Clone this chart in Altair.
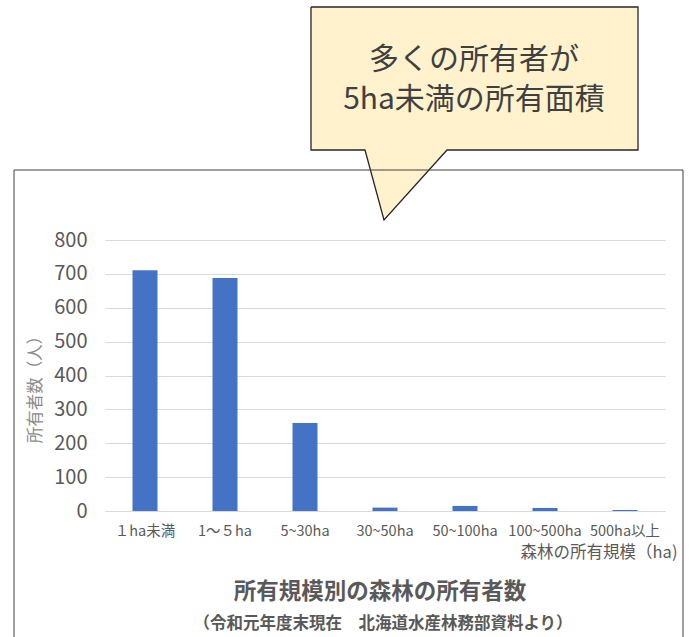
import altair as alt
import pandas as pd

# ---- data ----
categories = ["１ha未満", "1～５ha", "5~30ha", "30~50ha", "50~100ha", "100~500ha", "500ha以上"]
owners = [711, 688, 260, 10, 15, 9, 3]
y_ticks = [0, 100, 200, 300, 400, 500, 600, 700, 800]
callout_lines = ["多くの所有者が", "5ha未満の所有面積"]
x_title = "森林の所有規模（ha)"
y_title = "所有者数（人）"
title_text = "所有規模別の森林の所有者数"
subtitle_text = "（令和元年度末現在　北海道水産林務部資料より）"

FONT = "Noto Sans CJK JP"
W, H = 560, 271
GRAY = "#595959"

df = pd.DataFrame({"cat": categories, "n": owners})

# layout of the callout (pixels relative to plot origin)
outline = pd.DataFrame({
    "px": [206, 533, 533, 342, 279, 260, 206, 206],
    "py": [-233, -233, -90, -90, -20, -90, -90, -233],
    "i": list(range(8)),
})
tri = pd.DataFrame({"px": [260, 279, 342], "py": [-91, -20, -91], "py2": [-91, -91, -91]})

one = pd.DataFrame({"a": [0]})

box_fill = alt.Chart(one).mark_rect(fill="#FFF2CC", stroke=None).encode(
    x=alt.value(206), x2=alt.value(533), y=alt.value(-233), y2=alt.value(-90)
)
tri_fill = alt.Chart(tri).mark_area(fill="#FFF2CC", clip=False).encode(
    x=alt.X("px:Q", scale=None, axis=None),
    y=alt.Y("py:Q", scale=None, axis=None),
    y2="py2:Q",
)
outline_line = alt.Chart(outline).mark_line(stroke="#262626", strokeWidth=1.3, clip=False).encode(
    x=alt.X("px:Q", scale=None, axis=None),
    y=alt.Y("py:Q", scale=None, axis=None),
    order=alt.Order("i:Q"),
)
callout_text = alt.Chart(pd.DataFrame({"t": ["\n".join(callout_lines)]})).mark_text(
    font=FONT, fontSize=30, color="#404040", lineBreak="\n", lineHeight=40,
    align="center", baseline="middle",
).encode(text="t:N", x=alt.value(369), y=alt.value(-180))

border = alt.Chart(one).mark_rect(fill=None, stroke="#404040", strokeWidth=1).encode(
    x=alt.value(-91), x2=alt.value(578), y=alt.value(-70), y2=alt.value(420)
)

bars = alt.Chart(df).mark_bar(color="#4472C4", size=25).encode(
    x=alt.X(
        "cat:N", sort=categories,
        scale=alt.Scale(paddingInner=0, paddingOuter=0),
        axis=alt.Axis(
            title=x_title, labelAngle=0, ticks=False, domainColor="#D9D9D9",
            labelColor=GRAY, labelFontSize=14.5, labelFont=FONT, labelPadding=13,
            titleAnchor="end", titleAlign="right", titleBaseline="alphabetic",
            titleX=572, titleY=46, titleFontSize=16.5, titleFontWeight="normal",
            titleColor=GRAY, titleFont=FONT,
        ),
    ),
    y=alt.Y(
        "n:Q", scale=alt.Scale(domain=[0, 800]),
        axis=alt.Axis(
            values=y_ticks, title=y_title, grid=True, gridColor="#D9D9D9",
            domain=False, ticks=False, labelFontSize=20, labelColor=GRAY,
            labelFont=FONT, labelPadding=18, titleX=-62, titleY=145,
            titleAngle=270, titleAlign="center", titleFontSize=16.5,
            titleFontWeight="normal", titleColor="#8c8c8c", titleFont=FONT,
        ),
    ),
)

title = alt.Chart(pd.DataFrame({"t": [title_text]})).mark_text(
    font=FONT, fontSize=22.5, fontWeight="bold", color=GRAY, align="center", baseline="middle"
).encode(text="t:N", x=alt.value(275), y=alt.value(352))
subtitle = alt.Chart(pd.DataFrame({"t": [subtitle_text]})).mark_text(
    font=FONT, fontSize=16.5, fontWeight="bold", color=GRAY, align="center", baseline="middle"
).encode(text="t:N", x=alt.value(278), y=alt.value(384))

chart = alt.layer(
    bars, box_fill, tri_fill, outline_line, callout_text, border, title, subtitle
).resolve_scale(x="independent", y="independent").properties(
    width=W, height=H,
    autosize=alt.AutoSizeParams(type="none"),
    padding={"left": 105, "top": 240, "right": 26, "bottom": 126},
).configure_view(stroke=None)

chart.save("out.html", embed_options={"renderer": "svg", "actions": False})
